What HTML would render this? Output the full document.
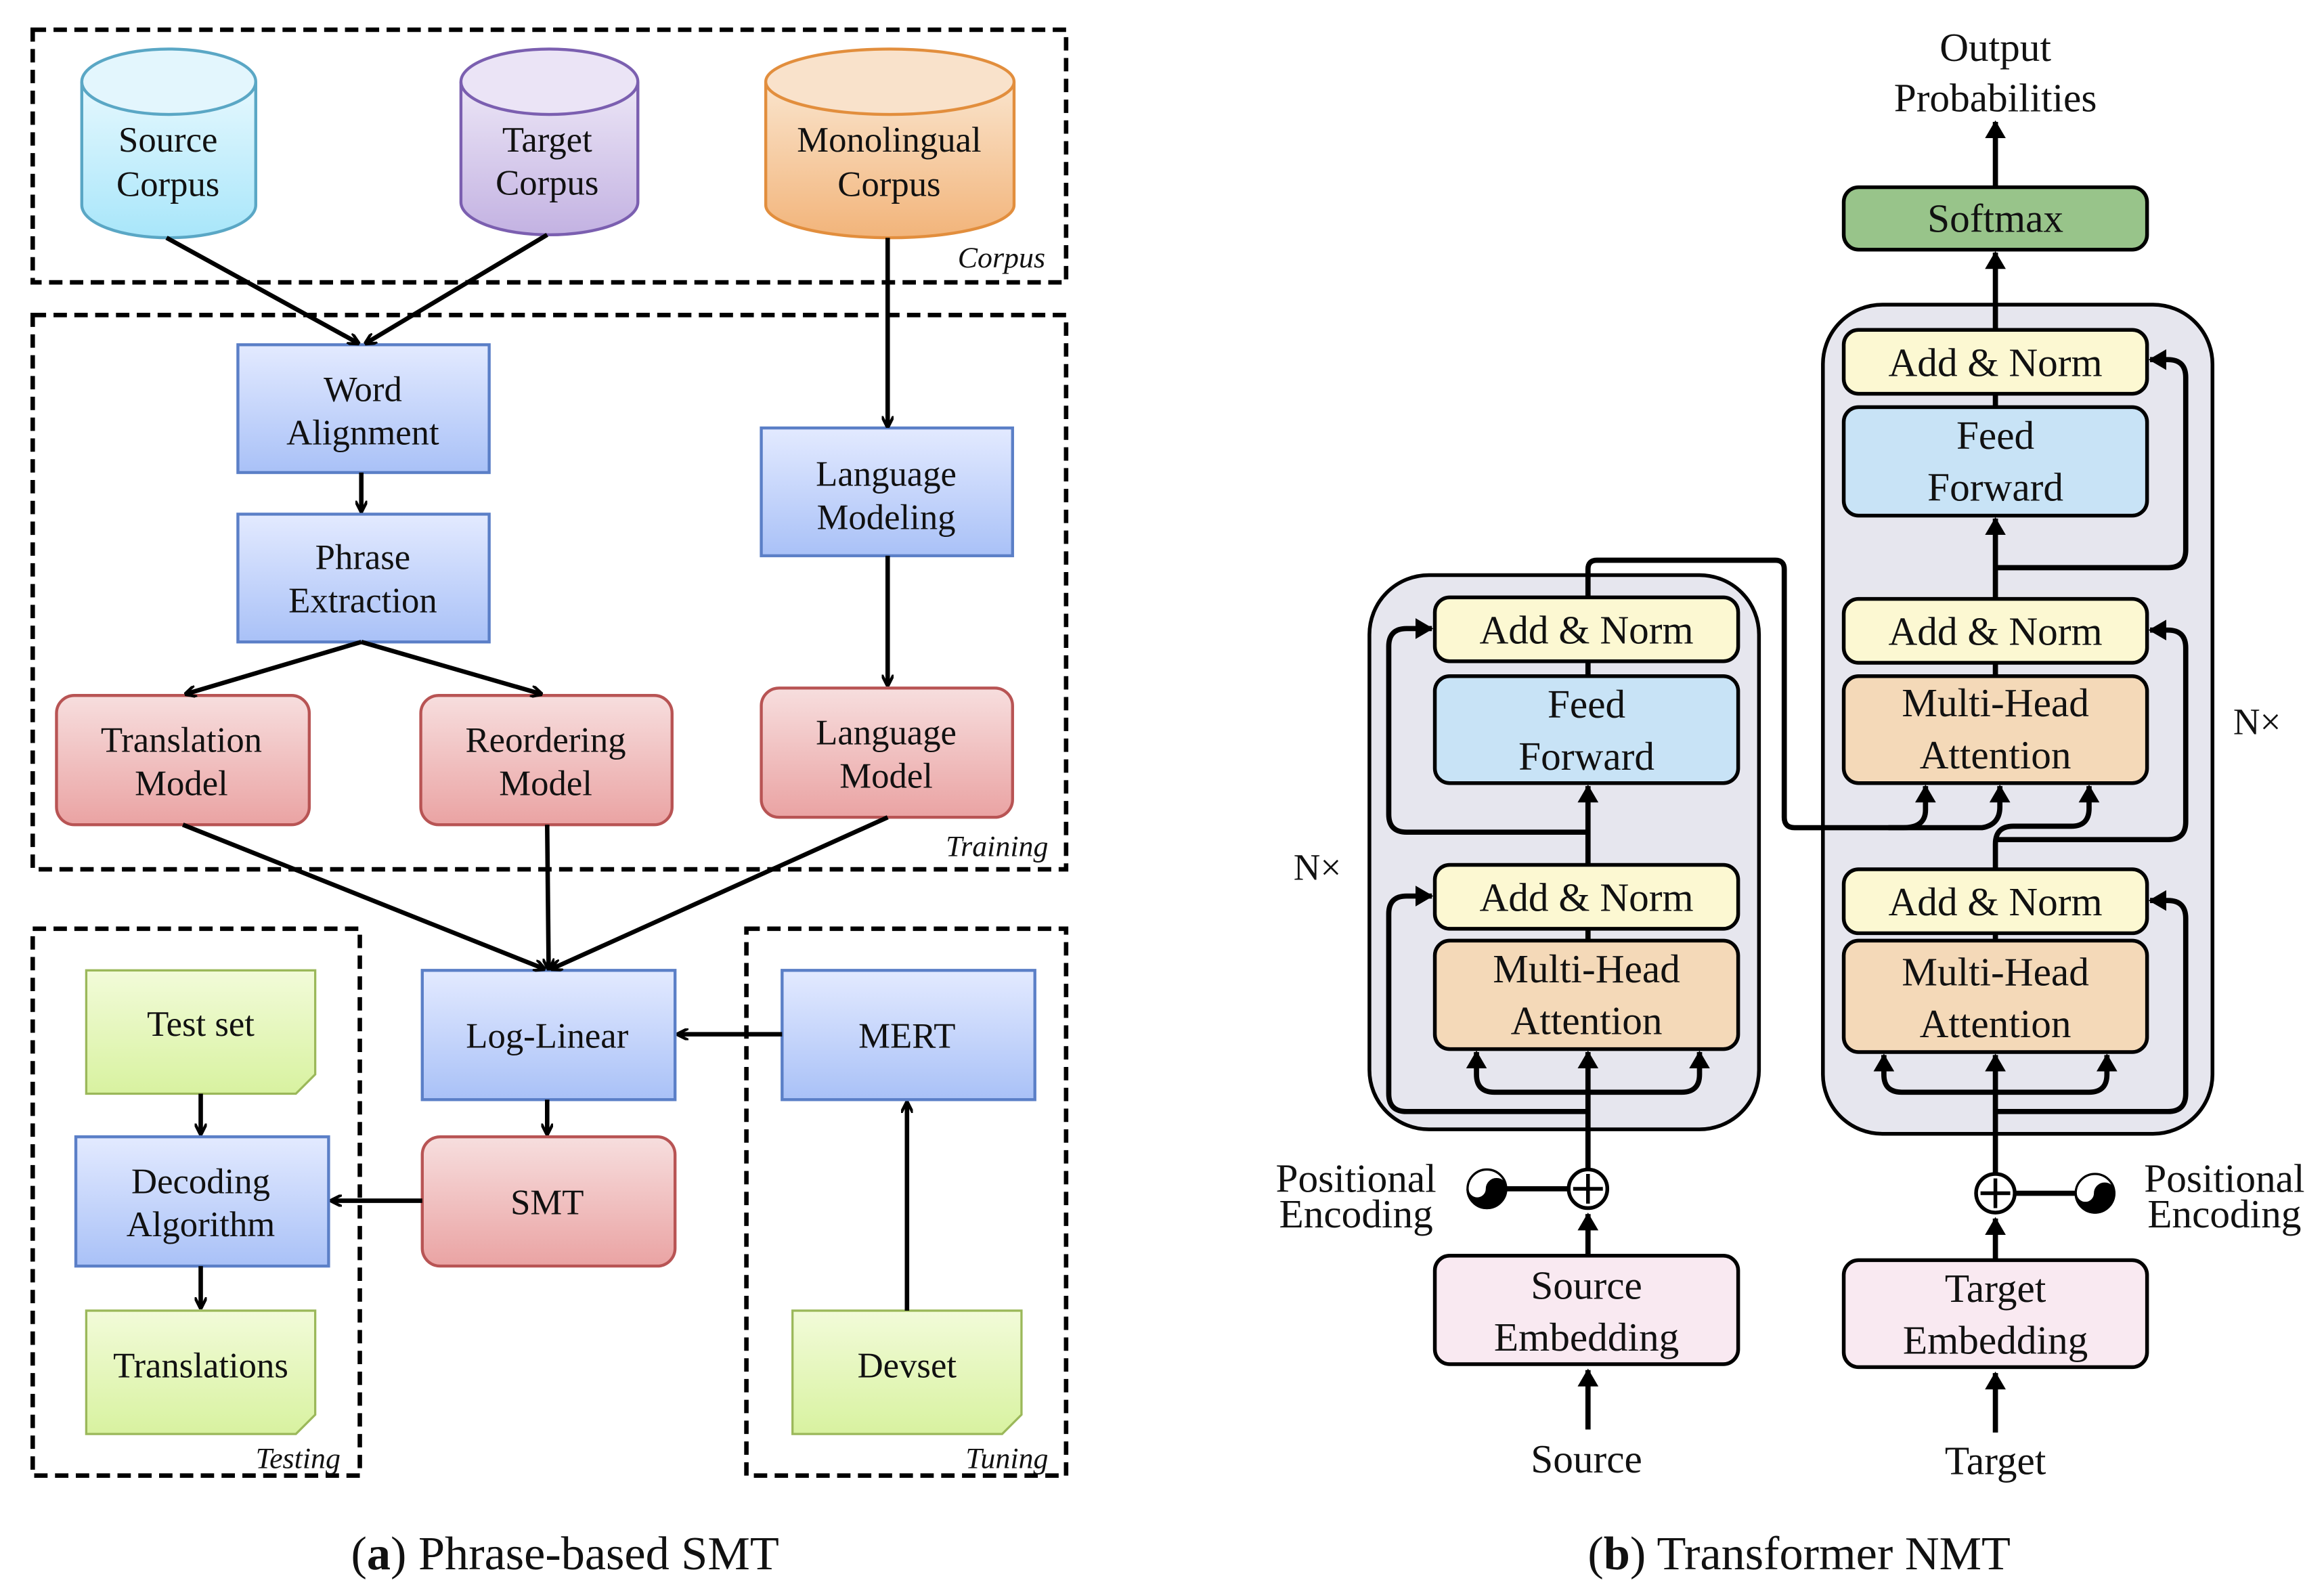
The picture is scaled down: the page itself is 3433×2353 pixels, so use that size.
<!DOCTYPE html>
<html><head><meta charset="utf-8"><style>
html,body{margin:0;padding:0;background:#fff}
svg{display:block}
text{font-family:"Liberation Serif",serif;fill:#111}
</style></head><body>
<svg width="3433" height="2353" viewBox="0 0 1563 1072" preserveAspectRatio="none" xmlns="http://www.w3.org/2000/svg">
<defs>
<marker id="a" markerWidth="8" markerHeight="8" refX="7" refY="4" orient="auto" markerUnits="userSpaceOnUse"><path d="M0,0 L8,4 L0,8" fill="none" stroke="#000" stroke-width="2"/></marker>
<marker id="t" markerWidth="12" markerHeight="14" refX="11" refY="7" orient="auto" markerUnits="userSpaceOnUse"><path d="M0,0 L12,7 L0,14 Z" fill="#000"/></marker>
<linearGradient id="gb" x1="0" y1="0" x2="0" y2="1"><stop offset="0" stop-color="#e3eaff"/><stop offset="1" stop-color="#a9c1f7"/></linearGradient>
<linearGradient id="gr" x1="0" y1="0" x2="0" y2="1"><stop offset="0" stop-color="#f7dede"/><stop offset="1" stop-color="#eaa3a3"/></linearGradient>
<linearGradient id="gg" x1="0" y1="0" x2="0" y2="1"><stop offset="0" stop-color="#f2fbd9"/><stop offset="1" stop-color="#d8f2a0"/></linearGradient>
<linearGradient id="gc" x1="0" y1="0" x2="0" y2="1"><stop offset="0" stop-color="#e6f8fe"/><stop offset="1" stop-color="#a8e6fa"/></linearGradient>
<linearGradient id="gp" x1="0" y1="0" x2="0" y2="1"><stop offset="0" stop-color="#ece6f6"/><stop offset="1" stop-color="#c3b2e2"/></linearGradient>
<linearGradient id="go" x1="0" y1="0" x2="0" y2="1"><stop offset="0" stop-color="#fae4cc"/><stop offset="1" stop-color="#f2b47a"/></linearGradient>
</defs>

<!-- Left panel dashed groups -->
<g fill="none" stroke="#000" stroke-width="3" stroke-dasharray="9,5">
<rect x="22" y="20" width="695" height="170"/>
<rect x="22" y="212" width="695" height="373"/>
<rect x="22" y="625" width="220" height="368"/>
<rect x="502" y="625" width="215" height="368"/>
</g>
<g font-style="italic" font-size="20" text-anchor="end">
<text x="703" y="180">Corpus</text>
<text x="705" y="576">Training</text>
<text x="229" y="988">Testing</text>
<text x="705" y="988">Tuning</text>
</g>

<!-- cylinders -->
<g stroke-width="2">
<path d="M55,55 V138 A58.5,22 0 0 0 172,138 V55" fill="url(#gc)" stroke="#5aa7c5"/>
<ellipse cx="113.5" cy="55" rx="58.5" ry="22" fill="#e3f6fd" stroke="#5aa7c5"/>
<path d="M310,55 V136 A59.5,22 0 0 0 429,136 V55" fill="url(#gp)" stroke="#7b5fb0"/>
<ellipse cx="369.5" cy="55" rx="59.5" ry="22" fill="#ebe4f6" stroke="#7b5fb0"/>
<path d="M515,55 V138 A83.5,22 0 0 0 682,138 V55" fill="url(#go)" stroke="#e28e3d"/>
<ellipse cx="598.5" cy="55" rx="83.5" ry="22" fill="#f9e2cb" stroke="#e28e3d"/>
</g>
<g font-size="24" text-anchor="middle">
<text x="113" y="102">Source</text><text x="113" y="132">Corpus</text>
<text x="368" y="102">Target</text><text x="368" y="131">Corpus</text>
<text x="598" y="102">Monolingual</text><text x="598" y="132">Corpus</text>
</g>

<!-- blue boxes -->
<g fill="url(#gb)" stroke="#5b7fc7" stroke-width="2">
<rect x="160" y="232" width="169" height="86"/>
<rect x="160" y="346" width="169" height="86"/>
<rect x="512" y="288" width="169" height="86"/>
<rect x="284" y="653" width="170" height="87"/>
<rect x="526" y="653" width="170" height="87"/>
<rect x="51" y="765" width="170" height="87"/>
</g>
<g fill="url(#gr)" stroke="#b85454" stroke-width="2">
<rect x="38" y="468" width="170" height="87" rx="12"/>
<rect x="283" y="468" width="169" height="87" rx="12"/>
<rect x="512" y="463" width="169" height="87" rx="12"/>
<rect x="284" y="765" width="170" height="87" rx="12"/>
</g>
<g fill="url(#gg)" stroke="#9bb85a" stroke-width="1.5">
<path d="M58,653 H212 V723 L199,736 H58 Z"/>
<path d="M58,882 H212 V952 L199,965 H58 Z"/>
<path d="M533,882 H687 V952 L674,965 H533 Z"/>
</g>
<g font-size="24" text-anchor="middle">
<text x="244" y="270">Word</text><text x="244" y="299">Alignment</text>
<text x="244" y="383">Phrase</text><text x="244" y="412">Extraction</text>
<text x="596" y="327">Language</text><text x="596" y="356">Modeling</text>
<text x="122" y="506">Translation</text><text x="122" y="535">Model</text>
<text x="367" y="506">Reordering</text><text x="367" y="535">Model</text>
<text x="596" y="501">Language</text><text x="596" y="530">Model</text>
<text x="368" y="705">Log-Linear</text>
<text x="610" y="705">MERT</text>
<text x="368" y="817">SMT</text>
<text x="135" y="803">Decoding</text><text x="135" y="832">Algorithm</text>
<text x="135" y="697">Test set</text>
<text x="135" y="927">Translations</text>
<text x="610" y="927">Devset</text>
</g>

<!-- left arrows -->
<g stroke="#000" stroke-width="3" fill="none" marker-end="url(#a)">
<line x1="112" y1="160" x2="241" y2="231"/>
<line x1="368" y1="158" x2="246" y2="231"/>
<line x1="597" y1="160" x2="597" y2="287"/>
<line x1="243" y1="318" x2="243" y2="344"/>
<line x1="243" y1="432" x2="125" y2="467"/>
<line x1="243" y1="432" x2="364" y2="467"/>
<line x1="597" y1="374" x2="597" y2="461"/>
<line x1="123" y1="555" x2="366" y2="652"/>
<line x1="368" y1="555" x2="369" y2="652"/>
<line x1="597" y1="550" x2="371" y2="652"/>
<line x1="526" y1="696" x2="456" y2="696"/>
<line x1="368" y1="740" x2="368" y2="763"/>
<line x1="284" y1="808" x2="223" y2="808"/>
<line x1="135" y1="736" x2="135" y2="763"/>
<line x1="135" y1="852" x2="135" y2="880"/>
<line x1="610" y1="882" x2="610" y2="742"/>
</g>

<!-- captions -->
<g font-size="32" text-anchor="middle">
<text x="380" y="1056">(<tspan font-weight="bold">a</tspan>) Phrase-based SMT</text>
<text x="1210" y="1056">(<tspan font-weight="bold">b</tspan>) Transformer NMT</text>
</g>

<!-- Right panel: gray containers -->
<rect x="921" y="387" width="262" height="373" rx="40" fill="#e6e6ee" stroke="#000" stroke-width="2.5"/>
<rect x="1226" y="205" width="262" height="558" rx="40" fill="#e6e6ee" stroke="#000" stroke-width="2.5"/>

<!-- connectors right -->
<g stroke="#000" stroke-width="3.5" fill="none">
<!-- encoder -->
<path d="M1068,962 V922" marker-end="url(#t)"/>
<path d="M1068,845 V817" marker-end="url(#t)"/>
<path d="M1068,787 V708" marker-end="url(#t)"/>
<path d="M1068,735 H1005 Q993,735 993,723 V708" marker-end="url(#t)"/>
<path d="M1068,735 H1131 Q1143,735 1143,723 V708" marker-end="url(#t)"/>
<path d="M1068,748 H946 Q934,748 934,736 V615 Q934,603 946,603 H963" marker-end="url(#t)"/>
<path d="M1068,633 V625"/>
<path d="M1068,582 V529" marker-end="url(#t)"/>
<path d="M1068,560 H946 Q934,560 934,548 V435 Q934,423 946,423 H963" marker-end="url(#t)"/>
<path d="M1068,455 V445"/>
<path d="M1068,402 V383 Q1068,377 1074,377 H1194 Q1200,377 1200,383 V550 Q1200,557 1207,557 H1280 Q1295,557 1295,545 V529" marker-end="url(#t)"/>
<path d="M1270,557 H1333 Q1345,555 1345,543 V529" marker-end="url(#t)"/>
<!-- decoder -->
<path d="M1342,964 V924" marker-end="url(#t)"/>
<path d="M1342,848 V820" marker-end="url(#t)"/>
<path d="M1342,790 V710" marker-end="url(#t)"/>
<path d="M1342,735 H1279 Q1267,735 1267,723 V710" marker-end="url(#t)"/>
<path d="M1342,735 H1405 Q1417,735 1417,723 V710" marker-end="url(#t)"/>
<path d="M1342,748 H1458 Q1470,748 1470,736 V618 Q1470,606 1458,606 H1446" marker-end="url(#t)"/>
<path d="M1342,633 V628"/>
<path d="M1342,585 V568 Q1342,556 1354,556 H1393 Q1405,556 1405,544 V529" marker-end="url(#t)"/>
<path d="M1342,565 H1458 Q1470,565 1470,553 V436 Q1470,424 1458,424 H1446" marker-end="url(#t)"/>
<path d="M1342,455 V446"/>
<path d="M1342,403 V349" marker-end="url(#t)"/>
<path d="M1342,382 H1458 Q1470,382 1470,370 V254 Q1470,242 1458,242 H1446" marker-end="url(#t)"/>
<path d="M1342,274 V265"/>
<path d="M1342,222 V170" marker-end="url(#t)"/>
<path d="M1342,126 V82" marker-end="url(#t)"/>
<!-- positional encoding lines -->
<path d="M1013,800 H1055"/>
<path d="M1355,803 H1396"/>
</g>

<!-- right boxes -->
<g stroke="#000" stroke-width="2.5">
<rect x="965" y="402" width="204" height="43" rx="10" fill="#fcf8d2"/>
<rect x="965" y="455" width="204" height="72" rx="10" fill="#c8e3f6"/>
<rect x="965" y="582" width="204" height="43" rx="10" fill="#fcf8d2"/>
<rect x="965" y="633" width="204" height="73" rx="10" fill="#f4d9b8"/>
<rect x="1240" y="222" width="204" height="43" rx="10" fill="#fcf8d2"/>
<rect x="1240" y="274" width="204" height="73" rx="10" fill="#c8e3f6"/>
<rect x="1240" y="403" width="204" height="43" rx="10" fill="#fcf8d2"/>
<rect x="1240" y="455" width="204" height="72" rx="10" fill="#f4d9b8"/>
<rect x="1240" y="585" width="204" height="43" rx="10" fill="#fcf8d2"/>
<rect x="1240" y="633" width="204" height="75" rx="10" fill="#f4d9b8"/>
<rect x="1240" y="126" width="204" height="42" rx="10" fill="#98c48a"/>
<rect x="965" y="845" width="204" height="73" rx="10" fill="#f9e9f1"/>
<rect x="1240" y="848" width="204" height="72" rx="10" fill="#f9e9f1"/>
</g>
<!-- plus circles -->
<g stroke="#000" stroke-width="2.5" fill="#fff">
<circle cx="1068" cy="800" r="13"/><circle cx="1342" cy="803" r="13"/>
</g>
<g stroke="#000" stroke-width="2.5">
<path d="M1058,800 H1078 M1068,790 V810"/>
<path d="M1332,803 H1352 M1342,793 V813"/>
</g>
<!-- positional encoding symbols -->
<g stroke="#000" stroke-width="1.5">
<circle cx="1000" cy="800" r="13" fill="#fff"/>
<path d="M987,800 A13,13 0 0 0 1013,800 A6.5,6.5 0 0 0 1000,800 A6.5,6.5 0 0 1 987,800 Z" fill="#000"/>
<circle cx="1409" cy="803" r="13" fill="#fff"/>
<path d="M1396,803 A13,13 0 0 0 1422,803 A6.5,6.5 0 0 0 1409,803 A6.5,6.5 0 0 1 1396,803 Z" fill="#000"/>
</g>

<g font-size="27" text-anchor="middle">
<text x="1067" y="433">Add &amp; Norm</text>
<text x="1067" y="483">Feed</text><text x="1067" y="518">Forward</text>
<text x="1067" y="613">Add &amp; Norm</text>
<text x="1067" y="661">Multi-Head</text><text x="1067" y="696">Attention</text>
<text x="1342" y="253">Add &amp; Norm</text>
<text x="1342" y="302">Feed</text><text x="1342" y="337">Forward</text>
<text x="1342" y="434">Add &amp; Norm</text>
<text x="1342" y="482">Multi-Head</text><text x="1342" y="517">Attention</text>
<text x="1342" y="616">Add &amp; Norm</text>
<text x="1342" y="663">Multi-Head</text><text x="1342" y="698">Attention</text>
<text x="1342" y="156">Softmax</text>
<text x="1067" y="874">Source</text><text x="1067" y="909">Embedding</text>
<text x="1342" y="876">Target</text><text x="1342" y="911">Embedding</text>
<text x="1067" y="991">Source</text>
<text x="1342" y="992">Target</text>
<text x="1342" y="41">Output</text><text x="1342" y="75">Probabilities</text>
<text x="912" y="802">Positional</text><text x="912" y="826">Encoding</text>
<text x="1496" y="802">Positional</text><text x="1496" y="826">Encoding</text>
<text x="886" y="592" font-size="25">N×</text>
<text x="1518" y="494" font-size="25">N×</text>
</g>
</svg>
</body></html>
